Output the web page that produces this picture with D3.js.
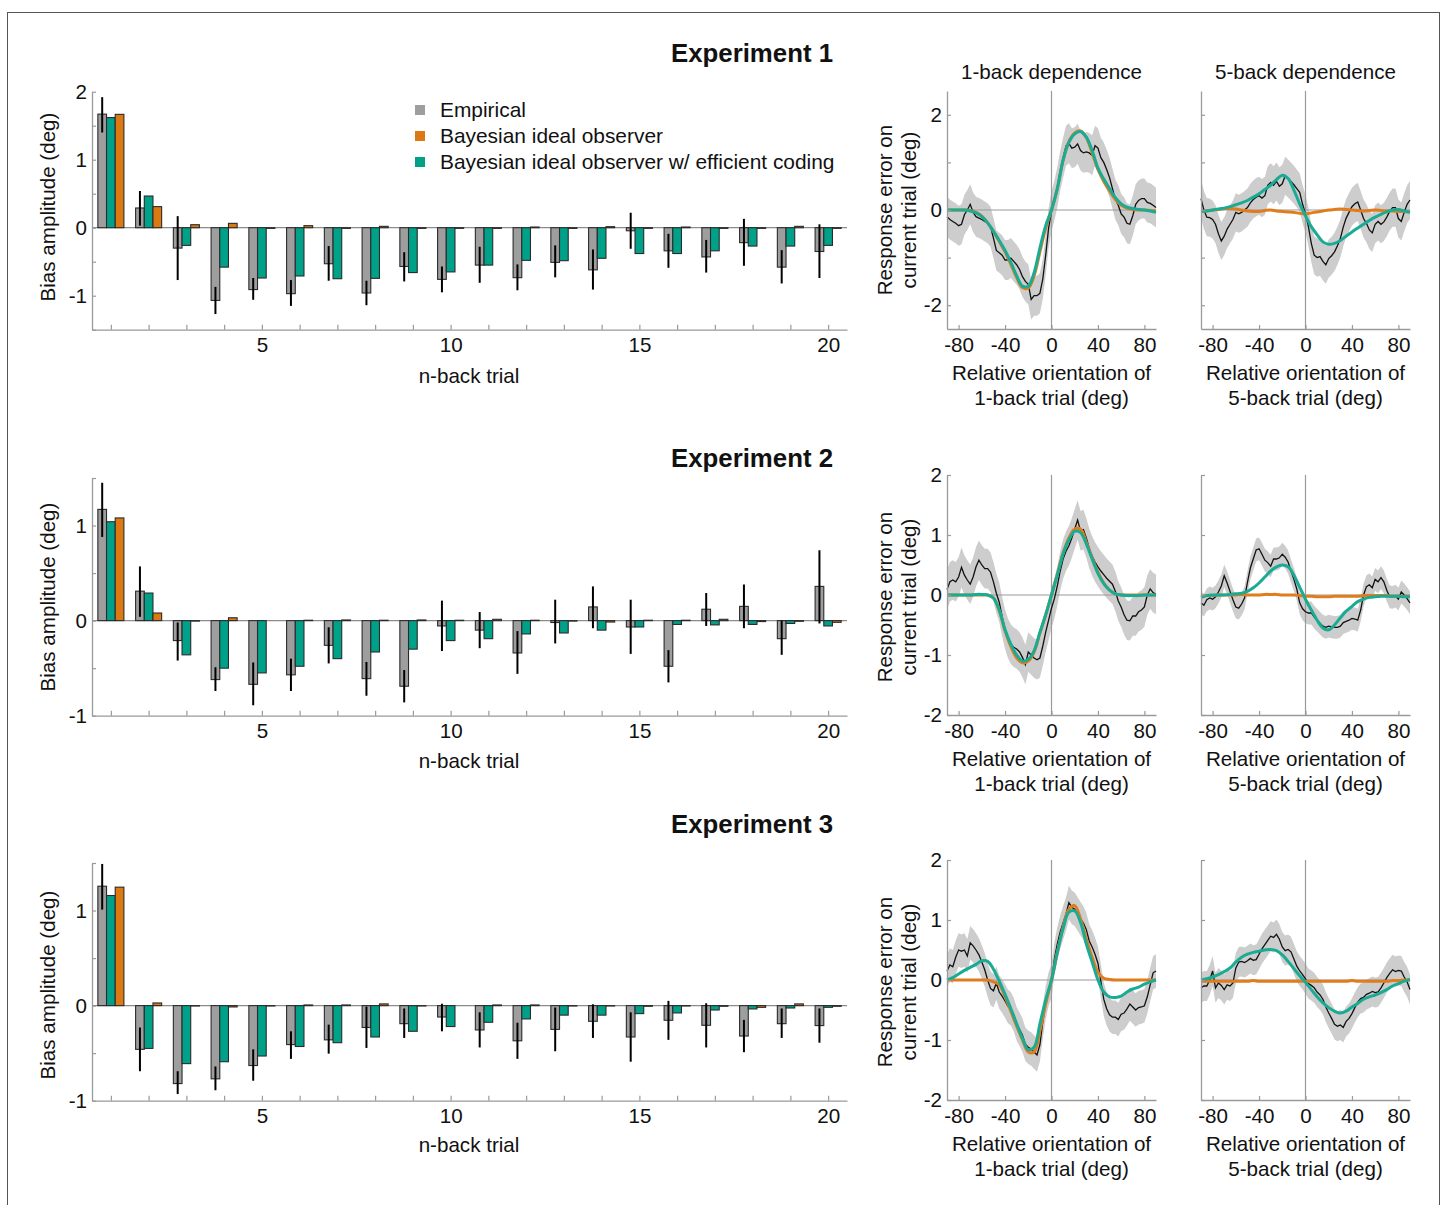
<!DOCTYPE html>
<html><head><meta charset="utf-8">
<script src="https://cdn.jsdelivr.net/npm/d3@7"></script>
<style>
body{margin:0;background:#fff}
text{font-family:"Liberation Sans",Arial,Helvetica,sans-serif;fill:#111}
</style>
</head><body>
<svg id="c" width="1444" height="1205"></svg>
<script>
// ---------------- DATA ----------------
const nBack = [1,2,3,4,5,6,7,8,9,10,11,12,13,14,15,16,17,18,19,20];
const nBackLabels = [5,10,15,20];
const seriesNames = ["Empirical","Bayesian ideal observer","Bayesian ideal observer w/ efficient coding"];
const expTitles = ["Experiment 1","Experiment 2","Experiment 3"];

// Experiment 1 bars
const e1Emp   = [1.67,0.29,-0.30,-1.07,-0.91,-0.97,-0.53,-0.96,-0.57,-0.76,-0.55,-0.735,-0.51,-0.62,-0.045,-0.34,-0.43,-0.22,-0.58,-0.35];
const e1Lo    = [1.40,0.03,-0.77,-1.27,-1.06,-1.15,-0.78,-1.14,-0.79,-0.95,-0.81,-0.92,-0.73,-0.91,-0.31,-0.59,-0.66,-0.56,-0.82,-0.74];
const e1Hi    = [1.92,0.54,0.17,-0.87,-0.74,-0.77,-0.27,-0.78,-0.36,-0.57,-0.28,-0.54,-0.26,-0.32,0.22,-0.09,-0.18,0.13,-0.33,0.05];
const e1Bayes = [1.667,0.31,0.044,0.064,-0.01,0.03,-0.01,0.02,-0.01,-0.01,-0.01,0.01,-0.01,0.015,-0.01,0.01,-0.01,-0.01,0.02,-0.01];
const e1Eff   = [1.62,0.466,-0.26,-0.58,-0.74,-0.71,-0.75,-0.745,-0.66,-0.65,-0.55,-0.48,-0.485,-0.45,-0.38,-0.38,-0.34,-0.27,-0.27,-0.26];

// Experiment 2 bars
const e2Emp   = [1.17,0.31,-0.21,-0.62,-0.67,-0.57,-0.26,-0.61,-0.69,-0.056,-0.10,-0.34,-0.02,0.144,-0.067,-0.48,0.12,0.15,-0.19,0.36];
const e2Lo    = [0.88,0.04,-0.42,-0.74,-0.89,-0.74,-0.45,-0.79,-0.86,-0.32,-0.29,-0.56,-0.24,-0.08,-0.35,-0.65,-0.056,-0.08,-0.36,-0.03];
const e2Hi    = [1.45,0.57,-0.02,-0.49,-0.44,-0.40,-0.07,-0.435,-0.52,0.21,0.09,-0.11,0.22,0.36,0.22,-0.31,0.29,0.38,0.0,0.74];
const e2Bayes = [1.08,0.08,-0.005,0.03,0.0,0.004,0.007,0.004,0.007,0.004,0.014,0.004,-0.005,-0.015,0.004,0.004,0.014,-0.01,-0.007,-0.018];
const e2Eff   = [1.04,0.29,-0.36,-0.50,-0.55,-0.48,-0.40,-0.33,-0.30,-0.21,-0.19,-0.14,-0.13,-0.10,-0.067,-0.04,-0.045,-0.04,-0.03,-0.056];

// Experiment 3 bars
const e3Emp   = [1.256,-0.46,-0.82,-0.77,-0.63,-0.41,-0.36,-0.23,-0.19,-0.12,-0.256,-0.37,-0.25,-0.165,-0.33,-0.154,-0.207,-0.32,-0.19,-0.21];
const e3Lo    = [1.01,-0.69,-0.93,-0.89,-0.79,-0.56,-0.505,-0.445,-0.34,-0.27,-0.44,-0.56,-0.48,-0.34,-0.59,-0.36,-0.44,-0.49,-0.34,-0.39];
const e3Hi    = [1.49,-0.23,-0.69,-0.64,-0.46,-0.27,-0.20,-0.01,-0.03,0.02,-0.07,-0.18,-0.02,0.014,-0.07,0.05,0.025,-0.15,-0.03,-0.03];
const e3Bayes = [1.246,0.028,-0.004,-0.014,-0.004,0.007,0.007,0.018,-0.004,0.0,0.007,0.007,-0.004,-0.004,-0.007,-0.004,-0.007,-0.018,0.018,-0.007];
const e3Eff   = [1.158,-0.45,-0.61,-0.59,-0.53,-0.43,-0.39,-0.33,-0.27,-0.22,-0.175,-0.14,-0.10,-0.10,-0.084,-0.077,-0.046,-0.035,-0.025,-0.018];

const barTicksE1 = [-1.5,-1,-0.5,0,0.5,1,1.5,2];
const barTicksE23 = [-1,-0.5,0,0.5,1,1.5];

// Serial dependence curves (relative orientation, deg)
// model curves on a 5-deg grid
const orient = [-90,-85,-80,-75,-70,-65,-60,-55,-50,-45,-40,-35,-30,-25,-20,-15,-10,-5,0,5,10,15,20,25,30,35,40,45,50,55,60,65,70,75,80,85,90];
// empirical running averages on a 2.5-deg grid
const orientFine = [-90,-87.5,-85,-82.5,-80,-77.5,-75,-72.5,-70,-67.5,-65,-62.5,-60,-57.5,-55,-52.5,-50,-47.5,-45,-42.5,-40,-37.5,-35,-32.5,-30,-27.5,-25,-22.5,-20,-17.5,-15,-12.5,-10,-7.5,-5,-2.5,0,2.5,5,7.5,10,12.5,15,17.5,20,22.5,25,27.5,30,32.5,35,37.5,40,42.5,45,47.5,50,52.5,55,57.5,60,62.5,65,67.5,70,72.5,75,77.5,80,82.5,85,87.5,90];
const orientTicks = [-80,-40,0,40,80];
const errTicks = [-2,-1,0,1,2];
// half-width of the empirical confidence band, per panel (E1 1-back, E1 5-back, E2 1-back, E2 5-back, E3 1-back, E3 5-back)
const ciHalfWidth = [0.42,0.40,0.33,0.19,0.28,0.25];

// Exp 1, 1-back
const e1b1Emp = [-0.14,-0.20,-0.24,-0.28,-0.33,-0.30,-0.10,0.00,0.12,-0.05,
  -0.14,-0.17,-0.20,-0.24,-0.28,-0.35,-0.59,-0.85,-0.90,-0.95,
  -1.05,-1.05,-1.01,-1.08,-1.15,-1.25,-1.40,-1.50,-1.56,-1.88,
  -1.80,-1.80,-1.75,-1.45,-0.95,-0.38,-0.03,0.20,0.48,0.82,
  1.10,1.35,1.40,1.30,1.32,1.39,1.25,1.20,1.22,1.20,
  1.15,1.35,1.30,1.10,1.00,0.85,0.68,0.45,0.22,0.10,
  -0.08,-0.15,-0.28,-0.30,-0.12,0.12,0.20,0.24,0.24,0.16,
  0.14,0.10,0.05];
const e1b1Bayes = [0,0,0,0,-0.01,-0.05,-0.13,-0.27,-0.45,-0.66,-0.88,-1.14,-1.42,-1.63,-1.64,-1.38,-0.88,-0.38,0,0.45,1.05,1.44,1.62,1.66,1.52,1.20,0.85,0.60,0.40,0.22,0.10,0.04,0.01,0,0,-0.01,-0.02];
const e1b1Eff   = [0,0,0,0,-0.02,-0.06,-0.14,-0.27,-0.45,-0.64,-0.85,-1.10,-1.38,-1.60,-1.60,-1.32,-0.80,-0.33,0,0.45,1.05,1.42,1.60,1.65,1.53,1.25,0.88,0.65,0.45,0.26,0.13,0.06,0.03,0.01,0,-0.02,-0.05];
// Exp 1, 5-back
const e1b5Emp = [0.24,0.00,-0.15,-0.16,-0.20,-0.30,-0.50,-0.65,-0.55,-0.40,
  -0.30,-0.20,-0.05,-0.08,-0.05,0.00,0.05,0.15,0.22,0.27,
  0.30,0.25,0.30,0.52,0.58,0.52,0.60,0.50,0.55,0.72,
  0.66,0.60,0.53,0.45,0.37,0.12,-0.08,-0.35,-0.70,-0.95,
  -1.00,-0.98,-1.08,-1.15,-1.02,-0.96,-0.88,-0.75,-0.60,-0.36,
  -0.17,-0.05,0.07,0.13,0.17,0.00,-0.18,-0.28,-0.42,-0.48,
  -0.30,-0.24,-0.30,-0.25,-0.15,-0.03,0.05,0.05,-0.18,-0.24,
  -0.05,0.12,0.21];
const e1b5Bayes = [-0.03,-0.02,0,0.01,0.03,0.03,0.02,0,-0.02,-0.03,-0.03,-0.01,0,-0.02,-0.03,-0.04,-0.05,-0.07,-0.08,-0.06,-0.04,-0.02,0,0.01,0.02,0.01,0,-0.01,-0.02,-0.01,0,-0.01,-0.02,-0.02,-0.03,-0.03,-0.04];
const e1b5Eff   = [-0.03,-0.02,0,0.02,0.04,0.07,0.11,0.15,0.20,0.27,0.34,0.43,0.52,0.64,0.73,0.66,0.42,0.13,-0.12,-0.35,-0.52,-0.67,-0.72,-0.70,-0.64,-0.55,-0.46,-0.38,-0.30,-0.22,-0.15,-0.09,-0.04,0,0.01,-0.02,-0.05];

// Exp 2, 1-back
const e2b1Emp = [0.09,0.22,0.25,0.22,0.30,0.46,0.33,0.25,0.18,0.30,
  0.47,0.58,0.50,0.44,0.44,0.38,0.22,0.03,-0.12,-0.36,
  -0.57,-0.72,-0.82,-0.87,-0.90,-0.95,-1.04,-1.16,-0.95,-1.00,
  -1.05,-1.08,-1.05,-0.85,-0.62,-0.42,-0.22,-0.06,0.15,0.40,
  0.60,0.73,0.82,0.95,1.10,1.25,1.07,1.09,0.95,0.78,
  0.65,0.55,0.47,0.40,0.34,0.28,0.23,0.18,0.06,-0.10,
  -0.20,-0.33,-0.42,-0.43,-0.35,-0.35,-0.28,-0.25,-0.20,0.00,
  0.10,0.04,0.01];
const e2b1Bayes = [0,0,0,0,0,0,0,0,-0.05,-0.26,-0.60,-0.86,-1.05,-1.13,-1.10,-0.95,-0.64,-0.33,0,0.35,0.70,0.95,1.10,1.10,0.88,0.62,0.38,0.20,0.08,0.02,0,0,0,0,0,0,0];
const e2b1Eff   = [0,0,0,0,0,0.01,0.01,0,-0.05,-0.25,-0.58,-0.82,-1.00,-1.10,-1.07,-0.93,-0.62,-0.33,0,0.33,0.68,0.92,1.06,1.04,0.85,0.60,0.36,0.19,0.08,0.02,0,-0.01,-0.01,-0.01,0,0,0];
// Exp 2, 5-back
const e2b5Emp = [-0.13,-0.17,-0.08,-0.05,-0.07,-0.03,0.05,0.15,0.32,0.20,
  0.06,-0.08,-0.20,-0.22,-0.15,-0.05,0.21,0.45,0.60,0.75,
  0.77,0.68,0.58,0.54,0.48,0.60,0.60,0.62,0.68,0.63,
  0.55,0.40,0.26,0.10,-0.13,-0.23,-0.28,-0.30,-0.30,-0.37,
  -0.42,-0.47,-0.52,-0.54,-0.52,-0.53,-0.54,-0.54,-0.52,-0.46,
  -0.44,-0.42,-0.39,-0.40,-0.42,-0.25,0.00,0.14,0.17,0.12,
  0.26,0.22,0.29,0.22,0.08,-0.03,-0.04,-0.02,-0.07,0.05,
  0.00,-0.06,-0.13];
const e2b5Bayes = [-0.02,-0.01,-0.01,0,0,0,0,0.01,0,0,0,0.01,0.01,0.01,0,0,0,-0.01,-0.02,-0.02,-0.03,-0.03,-0.03,-0.02,-0.02,-0.02,-0.02,-0.02,-0.01,-0.01,-0.01,-0.01,-0.01,-0.02,-0.02,-0.02,-0.02];
const e2b5Eff   = [-0.04,-0.01,0,0,0,0.01,0.02,0.03,0.06,0.12,0.20,0.30,0.40,0.47,0.50,0.47,0.33,0.13,-0.07,-0.25,-0.42,-0.55,-0.58,-0.50,-0.38,-0.27,-0.19,-0.11,-0.07,-0.04,-0.03,-0.02,-0.02,-0.02,-0.02,-0.03,-0.03];

// Exp 3, 1-back
const e3b1Emp = [0.15,0.25,0.22,0.38,0.50,0.48,0.50,0.40,0.62,0.57,
  0.50,0.42,0.30,0.17,0.00,-0.14,-0.18,-0.05,-0.20,-0.27,
  -0.35,-0.44,-0.48,-0.58,-0.73,-0.82,-0.92,-1.07,-1.12,-1.15,
  -1.20,-1.25,-1.08,-0.70,-0.38,-0.15,-0.02,0.35,0.60,0.80,
  0.95,1.10,1.29,1.21,1.18,1.10,1.02,0.95,0.84,0.65,
  0.55,0.43,0.28,-0.02,-0.32,-0.48,-0.58,-0.62,-0.62,-0.66,
  -0.57,-0.55,-0.48,-0.40,-0.45,-0.50,-0.46,-0.45,-0.43,-0.28,
  -0.08,0.12,0.15];
const e3b1Bayes = [0,0,0,0,0,0,0,0,-0.03,-0.08,-0.28,-0.52,-0.77,-1.00,-1.20,-1.20,-0.85,-0.40,0,0.46,0.88,1.18,1.24,1.02,0.68,0.38,0.13,0.03,0.01,0,0,0,0,0,0,0,0];
const e3b1Eff   = [0,0.04,0.10,0.16,0.21,0.26,0.32,0.31,0.18,-0.02,-0.24,-0.48,-0.73,-0.97,-1.16,-1.12,-0.73,-0.33,0,0.46,0.86,1.13,1.15,0.96,0.60,0.30,0.00,-0.20,-0.28,-0.29,-0.27,-0.20,-0.15,-0.12,-0.07,-0.03,0];
// Exp 3, 5-back
const e3b5Emp = [-0.13,-0.10,-0.10,0.00,0.15,-0.13,-0.05,-0.09,-0.16,-0.08,
  -0.10,-0.05,0.20,0.30,0.31,0.29,0.32,0.36,0.33,0.34,
  0.43,0.52,0.59,0.66,0.73,0.71,0.76,0.68,0.55,0.49,
  0.51,0.47,0.35,0.23,0.15,0.09,0.02,-0.06,-0.09,-0.13,
  -0.20,-0.25,-0.32,-0.45,-0.55,-0.64,-0.74,-0.77,-0.75,-0.79,
  -0.69,-0.64,-0.56,-0.46,-0.37,-0.31,-0.29,-0.24,-0.22,-0.19,
  -0.21,-0.20,-0.13,-0.05,0.04,0.11,0.17,0.14,0.16,0.15,
  0.05,-0.03,-0.16];
const e3b5Bayes = [-0.02,-0.02,-0.02,-0.02,-0.02,-0.02,-0.02,-0.02,-0.02,-0.01,-0.02,-0.02,-0.02,-0.02,-0.02,-0.02,-0.02,-0.02,-0.02,-0.02,-0.02,-0.02,-0.02,-0.02,-0.02,-0.02,-0.01,-0.02,-0.02,-0.02,-0.02,-0.02,-0.02,-0.01,-0.01,0,0];
const e3b5Eff   = [0,0.02,0.05,0.09,0.14,0.20,0.30,0.38,0.43,0.46,0.48,0.50,0.51,0.49,0.42,0.31,0.19,0.07,-0.04,-0.16,-0.28,-0.38,-0.46,-0.52,-0.55,-0.52,-0.45,-0.39,-0.32,-0.28,-0.25,-0.21,-0.16,-0.10,-0.06,-0.02,0.01];

// ---------------- STYLE ----------------
const C = {
  gray:"#9e9e9e", teal:"#00a189", orange:"#dc7912",
  lineTeal:"#1aab95", lineOrange:"#e07c1c", band:"#cdcdcd",
  axis:"#9a9a9a", zero:"#8c8c8c", outline:"#2b2b2b"
};
const FS = 20.6;

const svg = d3.select("#c");
svg.append("rect").attr("x",7.5).attr("y",12.5).attr("width",1432).attr("height",1210)
  .attr("fill","none").attr("stroke","#555").attr("stroke-width",1);

function styleAxis(g){
  g.select(".domain").attr("stroke",C.axis).attr("stroke-width",1.3);
  g.selectAll(".tick line").attr("stroke",C.axis).attr("stroke-width",1.2);
  g.selectAll(".tick text").style("font-size",FS+"px").attr("fill","#111")
    .style("font-family",'"Liberation Sans",Arial,sans-serif');
}

// ---------------- BAR PANELS ----------------
const xB = d3.scaleLinear().domain([0.5,20.5]).range([92,847]);
const bw = (xB(1)-xB(0))*0.23;

const barRows = [
  {emp:e1Emp,lo:e1Lo,hi:e1Hi,bayes:e1Bayes,eff:e1Eff,dom:[-1.5,2],rng:[329.7,91.7],ticks:barTicksE1,title:expTitles[0],titleY:62,xlabY:383,ylabY:207},
  {emp:e2Emp,lo:e2Lo,hi:e2Hi,bayes:e2Bayes,eff:e2Eff,dom:[-1,1.5],rng:[715.7,478],ticks:barTicksE23,title:expTitles[1],titleY:467,xlabY:768,ylabY:597},
  {emp:e3Emp,lo:e3Lo,hi:e3Hi,bayes:e3Bayes,eff:e3Eff,dom:[-1,1.5],rng:[1100.7,863],ticks:barTicksE23,title:expTitles[2],titleY:833,xlabY:1152,ylabY:985}
];

barRows.forEach(r=>{
  const y = d3.scaleLinear().domain(r.dom).range(r.rng);
  const g = svg.append("g");
  g.append("line").attr("x1",xB(0.5)).attr("x2",xB(20.5)).attr("y1",y(0)).attr("y2",y(0))
    .attr("stroke",C.zero).attr("stroke-width",1.3);
  const series = [
    {vals:r.emp, off:-1, fill:C.gray},
    {vals:r.eff, off:0, fill:C.teal},
    {vals:r.bayes, off:1, fill:C.orange}
  ];
  series.forEach(s=>{
    g.selectAll(null).data(nBack).enter().append("rect")
      .attr("x",n=>xB(n)+s.off*bw-bw/2)
      .attr("width",bw)
      .attr("y",(n,i)=>Math.min(y(0),y(s.vals[i])))
      .attr("height",(n,i)=>Math.abs(y(s.vals[i])-y(0)))
      .attr("fill",s.fill).attr("stroke",C.outline).attr("stroke-width",1.1);
  });
  g.selectAll(null).data(nBack).enter().append("line")
    .attr("x1",n=>xB(n)-bw).attr("x2",n=>xB(n)-bw)
    .attr("y1",(n,i)=>y(r.lo[i])).attr("y2",(n,i)=>y(r.hi[i]))
    .attr("stroke","#000").attr("stroke-width",2);
  const ax = g.append("g").attr("transform",`translate(${xB(0.5)},0)`)
    .call(d3.axisLeft(y).tickValues(r.ticks).tickSizeInner(-4).tickSizeOuter(0).tickPadding(5)
      .tickFormat(d=>Number.isInteger(d)?String(d):""));
  styleAxis(ax);
  const bx = g.append("g").attr("transform",`translate(0,${r.rng[0]})`)
    .call(d3.axisBottom(xB).tickValues(nBack).tickSizeInner(-5).tickSizeOuter(0).tickPadding(8)
      .tickFormat(d=>nBackLabels.includes(d)?d:""));
  styleAxis(bx);
  g.append("text").attr("x",469).attr("y",r.xlabY).attr("text-anchor","middle")
    .style("font-size",FS+"px").text("n-back trial");
  g.append("text").attr("transform",`translate(55,${r.ylabY}) rotate(-90)`).attr("text-anchor","middle")
    .style("font-size",FS+"px").text("Bias amplitude (deg)");
  g.append("text").attr("x",833).attr("y",r.titleY).attr("text-anchor","end")
    .style("font-size","25.8px").style("font-weight","bold").text(r.title);
});

// legend
const legColors = [C.gray, C.orange, C.teal];
seriesNames.forEach((name,i)=>{
  const cy = 110 + i*26;
  svg.append("rect").attr("x",415).attr("y",cy-5).attr("width",10).attr("height",10).attr("fill",legColors[i]);
  svg.append("text").attr("x",440).attr("y",cy+7).style("font-size","20.9px").text(name);
});

// ---------------- LINE PANELS ----------------
const lineRows = [
  {dom:[-2.5,2.5], rng:[329,91], labelAll:false, xl1:380, xl2:405, ylabY:210,
   p:[{emp:e1b1Emp,ci:ciHalfWidth[0],bayes:e1b1Bayes,eff:e1b1Eff},{emp:e1b5Emp,ci:ciHalfWidth[1],bayes:e1b5Bayes,eff:e1b5Eff}]},
  {dom:[-2,2], rng:[715,475], labelAll:true, xl1:766, xl2:791, ylabY:597,
   p:[{emp:e2b1Emp,ci:ciHalfWidth[2],bayes:e2b1Bayes,eff:e2b1Eff},{emp:e2b5Emp,ci:ciHalfWidth[3],bayes:e2b5Bayes,eff:e2b5Eff}]},
  {dom:[-2,2], rng:[1100,860], labelAll:true, xl1:1151, xl2:1176, ylabY:982,
   p:[{emp:e3b1Emp,ci:ciHalfWidth[4],bayes:e3b1Bayes,eff:e3b1Eff},{emp:e3b5Emp,ci:ciHalfWidth[5],bayes:e3b5Bayes,eff:e3b5Eff}]}
];
const panelX = [[947,1156],[1201,1410]];
const backLabels = ["1-back","5-back"];

backLabels.forEach((b,j)=>{
  svg.append("text").attr("x",(panelX[j][0]+panelX[j][1])/2).attr("y",79).attr("text-anchor","middle")
    .style("font-size",FS+"px").text(b+" dependence");
});

lineRows.forEach(r=>{
  const y = d3.scaleLinear().domain(r.dom).range(r.rng);
  r.p.forEach((d,j)=>{
    const x = d3.scaleLinear().domain([-90,90]).range(panelX[j]);
    const g = svg.append("g");
    const area = d3.area().x((v,i)=>x(orientFine[i])).y0(v=>y(v-d.ci)).y1(v=>y(v+d.ci));
    g.append("path").datum(d.emp).attr("d",area).attr("fill",C.band);
    g.append("line").attr("x1",x(-90)).attr("x2",x(90)).attr("y1",y(0)).attr("y2",y(0))
      .attr("stroke",C.axis).attr("stroke-width",1.2);
    g.append("line").attr("x1",x(0)).attr("x2",x(0)).attr("y1",y(r.dom[0])).attr("y2",y(r.dom[1]))
      .attr("stroke",C.axis).attr("stroke-width",1.2);
    const lineE = d3.line().x((v,i)=>x(orientFine[i])).y(v=>y(v));
    const lineS = d3.line().x((v,i)=>x(orient[i])).y(v=>y(v)).curve(d3.curveCatmullRom);
    g.append("path").datum(d.emp).attr("d",lineE).attr("fill","none").attr("stroke","#111").attr("stroke-width",1.3);
    g.append("path").datum(d.bayes).attr("d",lineS).attr("fill","none").attr("stroke",C.lineOrange).attr("stroke-width",3);
    g.append("path").datum(d.eff).attr("d",lineS).attr("fill","none").attr("stroke",C.lineTeal).attr("stroke-width",3);
    const ay = g.append("g").attr("transform",`translate(${panelX[j][0]},0)`)
      .call(d3.axisLeft(y).tickValues(errTicks).tickSizeInner(-4).tickSizeOuter(0).tickPadding(5)
        .tickFormat(v=> j===1 ? "" : (r.labelAll || v%2===0 ? String(v) : "")));
    styleAxis(ay);
    const ax = g.append("g").attr("transform",`translate(0,${r.rng[0]})`)
      .call(d3.axisBottom(x).tickValues(orientTicks).tickSizeInner(-4).tickSizeOuter(0).tickPadding(8)
        .tickFormat(v=>String(v)));
    styleAxis(ax);
    const cx = (panelX[j][0]+panelX[j][1])/2;
    g.append("text").attr("x",cx).attr("y",r.xl1).attr("text-anchor","middle").style("font-size",FS+"px")
      .text("Relative orientation of");
    g.append("text").attr("x",cx).attr("y",r.xl2).attr("text-anchor","middle").style("font-size",FS+"px")
      .text(backLabels[j]+" trial (deg)");
  });
  svg.append("text").attr("transform",`translate(892,${r.ylabY}) rotate(-90)`).attr("text-anchor","middle")
    .style("font-size",FS+"px").text("Response error on");
  svg.append("text").attr("transform",`translate(916,${r.ylabY}) rotate(-90)`).attr("text-anchor","middle")
    .style("font-size",FS+"px").text("current trial (deg)");
});
</script>
</body></html>
